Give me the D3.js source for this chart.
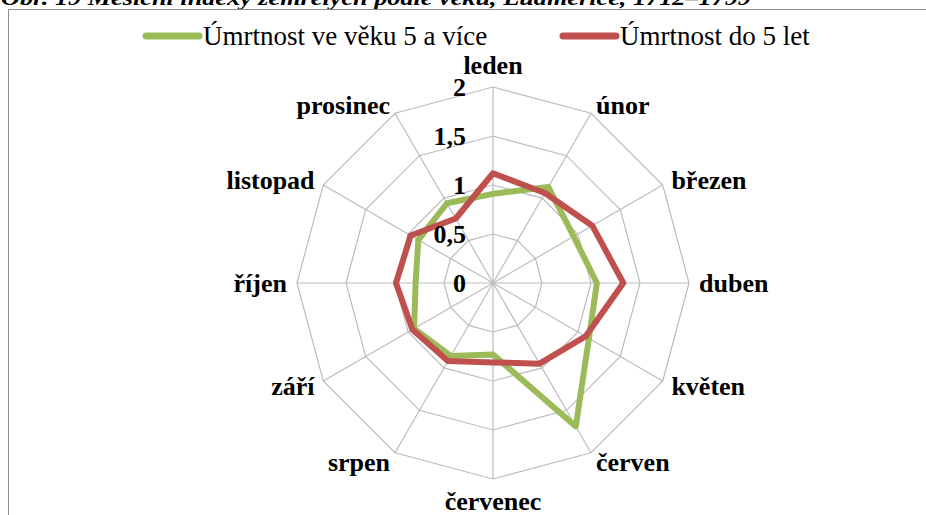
<!DOCTYPE html>
<html>
<head>
<meta charset="utf-8">
<script src="https://cdn.jsdelivr.net/npm/d3@7"></script>
<style>
  body { margin: 0; background: #fff; }
  svg { display: block; }
</style>
</head>
<body>
<svg id="chart"></svg>
<script>
// months, clockwise from top
const months = ['leden', 'únor', 'březen', 'duben', 'květen', 'červen',
  'červenec', 'srpen', 'září', 'říjen', 'listopad', 'prosinec'];
const over5 = [0.91, 1.13, 0.95, 1.06, 1.13, 1.69, 0.73, 0.86, 0.93, 0.79, 0.88, 0.94];
const under5 = [1.12, 1.06, 1.17, 1.33, 1.09, 0.95, 0.81, 0.92, 0.95, 0.99, 0.97, 0.76];
const ticks = [0, 0.5, 1, 1.5, 2];
const tickLabels = ['0', '0,5', '1', '1,5', '2'];
const seriesNames = ['Úmrtnost ve věku 5 a více', 'Úmrtnost do 5 let'];
const title = 'Obr. 19 Měsíční indexy zemřelých podle věku, Ludmeřice, 1712–1799';

const W = 926, H = 515;
const cx = 493, cy = 283, R = 196;
const green = '#9bbb59', red = '#c0504d';
const serif = "'Liberation Serif', 'Times New Roman', 'DejaVu Serif', serif";

const svg = d3.select('#chart').attr('width', W).attr('height', H)
  .style('font-family', serif);

// frame + title (cut at the top like the source)
svg.append('text')
  .attr('x', 1).attr('y', 5)
  .attr('font-family', serif)
  .attr('font-size', 22).attr('font-weight', 'bold').attr('font-style', 'italic')
  .attr('textLength', 750).attr('lengthAdjust', 'spacingAndGlyphs')
  .text(title);
svg.append('path')
  .attr('d', 'M8.5,' + H + 'V9.5H' + W)
  .attr('fill', 'none').attr('stroke', '#8c8c8c').attr('stroke-width', 1);

let r = d3.scaleLinear().domain([0, 2]).range([0, R]);
let angle = d3.scalePoint().domain(months).range([0, 2 * Math.PI * 11 / 12]);

function pt(m, v) {
  let a = angle(m);
  return [cx + r(v) * Math.sin(a), cy - r(v) * Math.cos(a)];
}

let g = svg.append('g');

// rings
ticks.filter(t => t > 0).forEach(function (t) {
  g.append('polygon')
    .attr('points', months.map(m => pt(m, t).join(',')).join(' '))
    .attr('fill', 'none').attr('stroke', '#bcbcbc').attr('stroke-width', 1.2);
});
// spokes
months.forEach(function (m) {
  let p = pt(m, 2);
  g.append('line')
    .attr('x1', cx).attr('y1', cy).attr('x2', p[0]).attr('y2', p[1])
    .attr('stroke', '#bcbcbc').attr('stroke-width', 1.2);
});

// series
let line = d3.line().x(d => d[0]).y(d => d[1]).curve(d3.curveLinearClosed);
[[over5, green], [under5, red]].forEach(function (s) {
  g.append('path')
    .datum(months.map((m, i) => pt(m, s[0][i])))
    .attr('d', line)
    .attr('fill', 'none').attr('stroke', s[1]).attr('stroke-width', 6)
    .attr('stroke-linejoin', 'round');
});

// tick labels
ticks.forEach(function (t, i) {
  g.append('text')
    .attr('x', cx - 27).attr('y', cy - r(t))
    .attr('dy', '0.35em').attr('text-anchor', 'end')
    .attr('font-family', serif)
    .attr('font-size', 26).attr('font-weight', 'bold')
    .text(tickLabels[i]);
});

// month labels
let rl = R + 10;
months.forEach(function (m) {
  let a = angle(m), s = Math.sin(a), c = Math.cos(a);
  let anchor = s > 0.1 ? 'start' : (s < -0.1 ? 'end' : 'middle');
  let dy = c > 0.99 ? '-0.1em' : (c < -0.99 ? '0.8em' : '0.35em');
  g.append('text')
    .attr('x', cx + rl * s).attr('y', cy - rl * c)
    .attr('dy', dy).attr('text-anchor', anchor)
    .attr('font-family', serif)
    .attr('font-size', 26).attr('font-weight', 'bold')
    .text(m);
});

// legend
let legend = svg.append('g');
let legX = [146, 563];
[green, red].forEach(function (col, i) {
  legend.append('line')
    .attr('x1', legX[i]).attr('x2', legX[i] + 53).attr('y1', 36).attr('y2', 36)
    .attr('stroke', col).attr('stroke-width', 7).attr('stroke-linecap', 'round');
  legend.append('text')
    .attr('x', legX[i] + 57).attr('y', 45)
    .attr('font-family', serif)
    .attr('font-size', 27).attr('font-weight', 'normal')
    .text(seriesNames[i]);
});
</script>
</body>
</html>
